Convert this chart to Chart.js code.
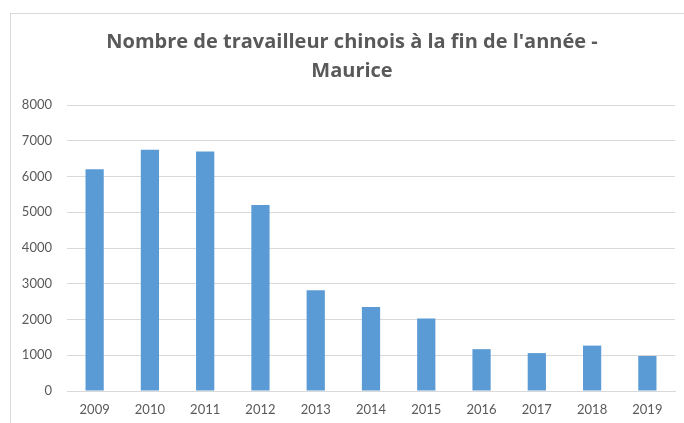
<!DOCTYPE html>
<html>
<head>
    <title>Nombre de travailleur chinois - Maurice</title>
    <script src="https://cdn.jsdelivr.net/npm/chart.js"></script>
    <style>
        body {
            margin: 0;
            background: #fff;
        }
        .frame {
            position: absolute;
            left: 10px;
            top: 13px;
            width: 700px;
            height: 420px;
            border-left: 1px solid #d9d9d9;
            border-top: 1px solid #d9d9d9;
        }
        #chart-container {
            position: absolute;
            left: 0;
            top: 0;
            width: 684px;
            height: 423px;
        }
    </style>
</head>
<body>
    <div class="frame"></div>
    <div id="chart-container">
        <canvas id="workersChart"></canvas>
    </div>

    <script>
        // Data
        const years = ['2009', '2010', '2011', '2012', '2013', '2014', '2015', '2016', '2017', '2018', '2019'];
        const workers = [6200, 6750, 6700, 5200, 2820, 2350, 2030, 1170, 1060, 1270, 980];
        const titleLines = ["Nombre de travailleur chinois à la fin de l'année -", 'Maurice'];
        const yMin = 0;
        const yMax = 8000;
        const yStep = 1000;

        const textColor = '#595959';
        const gridColor = '#d9d9d9';

        const ctx = document.getElementById('workersChart').getContext('2d');
        const chart = new Chart(ctx, {
            type: 'bar',
            data: {
                labels: years,
                datasets: [{
                    label: 'Travailleurs chinois',
                    data: workers,
                    backgroundColor: '#5b9bd5',
                    borderWidth: 0,
                    barPercentage: 0.33,
                    categoryPercentage: 1
                }]
            },
            options: {
                responsive: true,
                maintainAspectRatio: false,
                animation: false,
                layout: {
                    padding: { left: 20, right: 0, top: 0, bottom: 0 }
                },
                plugins: {
                    legend: { display: false },
                    tooltip: { enabled: false },
                    title: {
                        display: true,
                        text: titleLines,
                        color: textColor,
                        font: { family: 'Open Sans', size: 20, weight: 'bold', lineHeight: 1.45 },
                        padding: { top: 28, bottom: 19 }
                    }
                },
                scales: {
                    x: {
                        grid: { display: false, drawTicks: false },
                        border: { display: true, color: gridColor },
                        ticks: {
                            color: textColor,
                            padding: 11,
                            font: { family: 'Lato', size: 13 }
                        },
                        afterFit: function(scale) { scale.height = 32; }
                    },
                    y: {
                        min: yMin,
                        max: yMax,
                        grid: { color: gridColor, drawTicks: false },
                        border: { display: false },
                        ticks: {
                            stepSize: yStep,
                            color: textColor,
                            padding: 15,
                            font: { family: 'Lato', size: 13 },
                            callback: function(value) { return String(value); }
                        },
                        afterFit: function(scale) { scale.width = 47; }
                    },
                    // empty right axis keeps the plot off the right edge
                    yRight: {
                        position: 'right',
                        display: true,
                        grid: { display: false, drawTicks: false },
                        border: { display: false },
                        ticks: { display: false },
                        afterFit: function(scale) { scale.width = 9; }
                    }
                }
            }
        });
    </script>
</body>
</html>
